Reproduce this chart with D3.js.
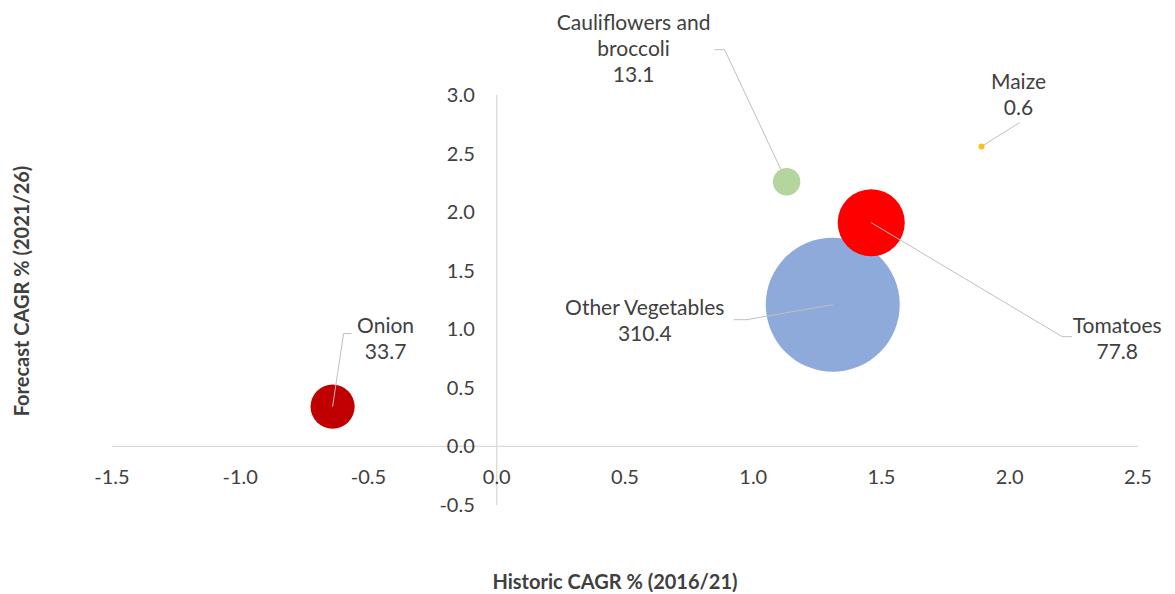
<!DOCTYPE html>
<html>
<head>
<meta charset="utf-8">
<script src="https://cdn.jsdelivr.net/npm/d3@7"></script>
<style>
  body { margin: 0; background: #fff; }
  text { font-family: Lato, "Open Sans", sans-serif; fill: #404040; }
</style>
</head>
<body>
<svg id="chart"></svg>
<script>
// Data
var names = ['Onion', 'Cauliflowers and broccoli', 'Tomatoes', 'Other Vegetables', 'Maize'];
var labelLines = [['Onion'], ['Cauliflowers and', 'broccoli'], ['Tomatoes'], ['Other Vegetables'], ['Maize']];
var historic = [-0.64, 1.13, 1.46, 1.31, 1.89];
var forecast = [0.34, 2.26, 1.91, 1.21, 2.56];
var sizes = [33.7, 13.1, 77.8, 310.4, 0.6];
var colors = ['#c00000', '#b5d59f', '#ff0000', '#8eaadb', '#ffc000'];
var xTicks = [-1.5, -1.0, -0.5, 0.0, 0.5, 1.0, 1.5, 2.0, 2.5];
var yTicks = [-0.5, 0.0, 0.5, 1.0, 1.5, 2.0, 2.5, 3.0];

// label placement (pixels, relative to the bubble centre) and leader elbows
var labelPos = [
    {dx: 53, dy: -81, sx: -34, ex: -42, sy: 8, edge: false},
    {dx: -153, dy: -159, sx: 81, ex: 91, sy: 27, edge: true},
    {dx: 246, dy: 103, sx: -45, ex: -55, sy: 11, edge: false},
    {dx: -188, dy: 3, sx: 89, ex: 102, sy: 12, edge: false},
    {dx: 37, dy: -65, sx: 1, ex: 1, sy: 41, edge: false}
];

var width = 1175, height = 594;
var svg = d3.select('#chart').attr('width', width).attr('height', height);

var x = d3.scaleLinear().domain([-1.5, 2.5]).range([112, 1138]);
var y = d3.scaleLinear().domain([-0.5, 3.0]).range([505, 95]);
var r = d3.scaleSqrt().domain([0, 310.4]).range([0, 67]);

// excel style: plain hyphen for negatives
var fmt = d3.formatLocale({decimal: '.', thousands: ',', grouping: [3], currency: ['', ''], minus: '-'}).format('.1f');

// Axis lines through zero
svg.append('line')
    .attr('x1', x(-1.5)).attr('x2', x(2.5))
    .attr('y1', y(0)).attr('y2', y(0))
    .attr('stroke', '#d9d9d9').attr('stroke-width', 1.3);

svg.append('line')
    .attr('x1', x(0)).attr('x2', x(0))
    .attr('y1', y(3.0)).attr('y2', y(-0.5))
    .attr('stroke', '#d9d9d9').attr('stroke-width', 1.3);

// Tick labels
svg.append('g').selectAll('text')
    .data(xTicks)
    .enter().append('text')
    .attr('x', function(d) { return x(d); })
    .attr('y', y(0) + 31)
    .attr('dy', '.35em')
    .attr('text-anchor', 'middle')
    .style('font-size', '20px')
    .text(function(d) { return fmt(d); });

svg.append('g').selectAll('text')
    .data(yTicks)
    .enter().append('text')
    .attr('x', x(0) - 22)
    .attr('y', function(d) { return y(d); })
    .attr('dy', '.35em')
    .attr('text-anchor', 'end')
    .style('font-size', '20px')
    .text(function(d) { return fmt(d); });

// Axis titles
svg.append('text')
    .attr('x', 615).attr('y', 582)
    .attr('dy', '.35em')
    .attr('text-anchor', 'middle')
    .style('font-size', '20px').style('font-weight', 'bold')
    .text('Historic CAGR % (2016/21)');

svg.append('text')
    .attr('transform', 'translate(22,291) rotate(-90)')
    .attr('dy', '.35em')
    .attr('text-anchor', 'middle')
    .style('font-size', '20px').style('font-weight', 'bold')
    .text('Forecast CAGR % (2021/26)');

// Bubbles, biggest first
var points = names.map(function(n, i) {
    return {name: n, hx: historic[i], fy: forecast[i], size: sizes[i], color: colors[i], lines: labelLines[i], pos: labelPos[i]};
});

svg.append('g').selectAll('circle')
    .data(points.slice().sort(function(a, b) { return b.size - a.size; }))
    .enter().append('circle')
    .attr('cx', function(d) { return x(d.hx); })
    .attr('cy', function(d) { return y(d.fy); })
    .attr('r', function(d) { return r(d.size); })
    .attr('fill', function(d) { return d.color; });

// Leader lines
svg.append('g').selectAll('polyline')
    .data(points)
    .enter().append('polyline')
    .attr('fill', 'none')
    .attr('stroke', '#bfbfbf')
    .attr('stroke-width', 1)
    .attr('points', function(d) {
        var px = x(d.hx), py = y(d.fy);
        var cx = px + d.pos.dx, cy = py + d.pos.dy;
        var sx = cx + d.pos.sx, ex = cx + d.pos.ex, ly = cy + d.pos.sy;
        var tx = px, ty = py;
        if (d.pos.edge) {
            var ang = Math.atan2(ly - py, ex - px);
            tx = px + Math.cos(ang) * r(d.size);
            ty = py + Math.sin(ang) * r(d.size);
        }
        return [[sx, ly], [ex, ly], [tx, ty]].map(function(p) { return p.join(','); }).join(' ');
    });

// Data labels: name lines then bubble size
var labels = svg.append('g').selectAll('text')
    .data(points)
    .enter().append('text')
    .attr('text-anchor', 'middle')
    .style('font-size', '21px');

labels.each(function(d) {
    var t = d3.select(this);
    var cx = x(d.hx) + d.pos.dx, cy = y(d.fy) + d.pos.dy;
    d.lines.concat([fmt(d.size)]).forEach(function(line, i) {
        t.append('tspan')
            .attr('x', cx)
            .attr('y', cy + i * 26)
            .attr('dy', '.35em')
            .text(line);
    });
});
</script>
</body>
</html>
